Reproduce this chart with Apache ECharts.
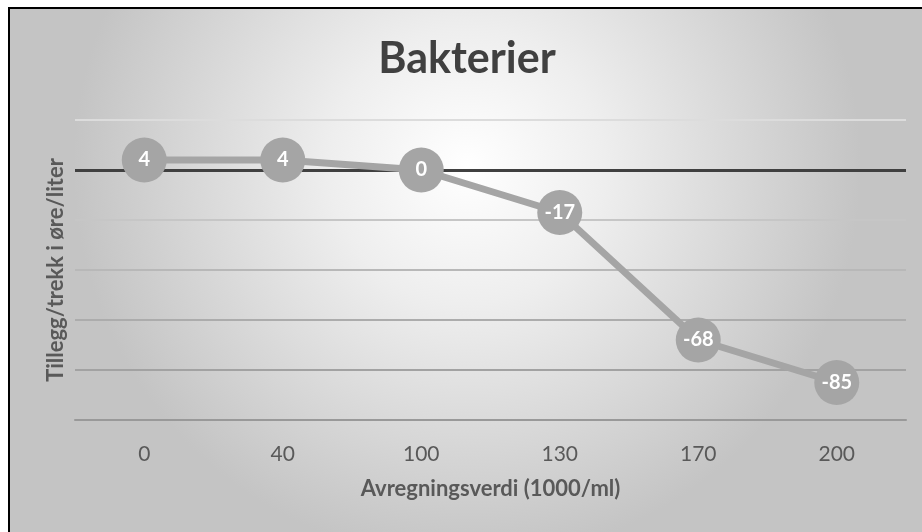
<!DOCTYPE html>
<html>
<head>
<meta charset="utf-8">
<script src="https://cdn.jsdelivr.net/npm/echarts@6/dist/echarts.min.js"></script>
<style>
  html, body { margin: 0; padding: 0; background: #fff; }
  #main {
    position: absolute;
    left: 8px;
    top: 7px;
    width: 914px;
    height: 525px;
    border-left: 2px solid #000;
    border-top: 2px solid #000;
  }
</style>
</head>
<body>
<div id="main"></div>
<script>
  // data
  const categories = ["0", "40", "100", "130", "170", "200"];
  const values = [4, 4, 0, -17, -68, -85];

  const myChart = echarts.init(document.getElementById("main"));

  const font = "Lato, 'Open Sans', sans-serif";

  const option = {
    backgroundColor: {
      type: "radial",
      x: 0.5,
      y: 0.3,
      r: 0.75,
      colorStops: [
        { offset: 0, color: "#ffffff" },
        { offset: 0.35, color: "#eeeeee" },
        { offset: 1, color: "#c4c4c4" },
      ],
    },
    title: {
      text: "Bakterier",
      left: "center",
      top: 24,
      textStyle: {
        fontFamily: font,
        fontSize: 43,
        fontWeight: "bold",
        color: "#404040",
      },
    },
    grid: {
      left: 65,
      right: 18,
      top: 111,
      bottom: 114,
    },
    xAxis: {
      type: "category",
      data: categories,
      boundaryGap: true,
      name: "Avregningsverdi (1000/ml)",
      nameLocation: "middle",
      nameGap: 58,
      nameTextStyle: {
        fontFamily: font,
        fontSize: 22,
        fontWeight: "bold",
        color: "#595959",
      },
      axisLine: { show: true, onZero: false, lineStyle: { color: "#999", width: 2 } },
      axisTick: { show: false },
      axisLabel: {
        margin: 24,
        fontFamily: font,
        fontSize: 21,
        color: "#595959",
      },
    },
    yAxis: {
      type: "value",
      min: -100,
      max: 20,
      interval: 20,
      name: "Tillegg/trekk i øre/liter",
      nameLocation: "middle",
      nameGap: 8,
      nameTextStyle: {
        fontFamily: font,
        fontSize: 22,
        fontWeight: "bold",
        color: "#595959",
      },
      axisLine: { show: false },
      axisTick: { show: false },
      axisLabel: { show: false },
      splitLine: {
        lineStyle: {
          width: 2,
          color: ["#999999", "#a2a2a2", "#acacac", "#b8b8b8", "#c6c6c6", "#404040", "#dcdcdc"],
        },
      },
    },
    series: [
      {
        type: "line",
        data: values,
        symbol: "circle",
        symbolSize: 45,
        lineStyle: { color: "#a5a5a5", width: 7 },
        itemStyle: { color: "#a5a5a5" },
        label: {
          show: true,
          position: "inside",
          fontFamily: font,
          fontSize: 20,
          fontWeight: "bold",
          color: "#ffffff",
        },
        markLine: {
          silent: true,
          symbol: "none",
          label: { show: false },
          lineStyle: { color: "#404040", width: 3, type: "solid" },
          data: [{ yAxis: 0 }],
          z: 1,
        },
        z: 3,
      },
    ],
  };

  myChart.setOption(option);
</script>
</body>
</html>
